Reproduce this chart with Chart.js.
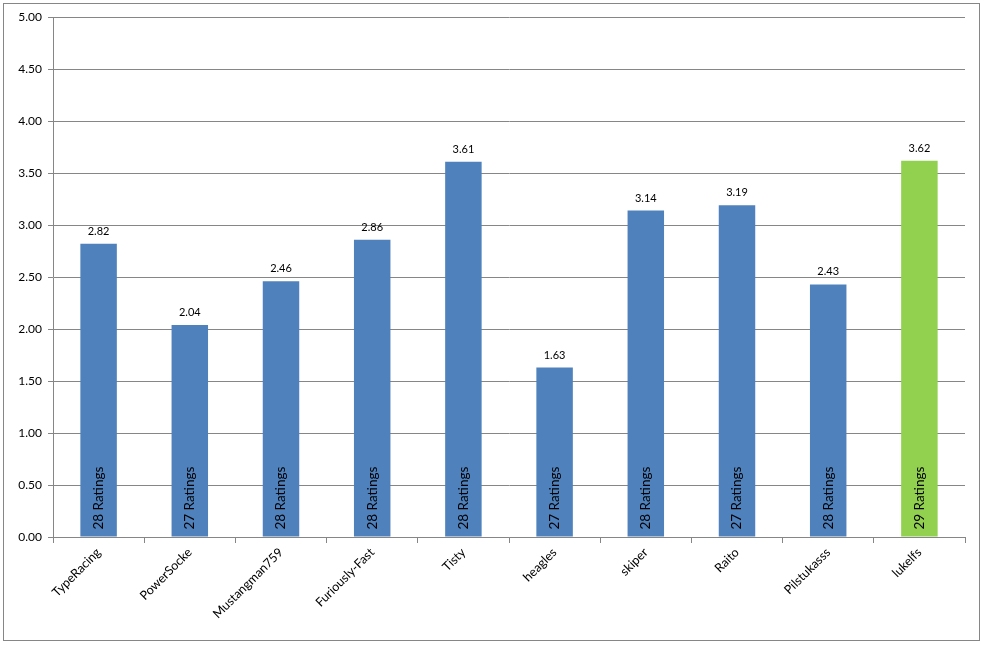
<!DOCTYPE html>
<html>
<head>
<meta charset="utf-8">
<script src="https://cdn.jsdelivr.net/npm/chart.js@4/dist/chart.umd.min.js"></script>
<style>
  body { margin: 0; background: #fff; }
  #wrap { position: absolute; left: 3px; top: 3px; width: 975px; height: 636px; border: 1px solid #868686; }
</style>
</head>
<body>
<div id="wrap"><canvas id="chart"></canvas></div>
<script>
const players = ["TypeRacing", "PowerSocke", "Mustangman759", "Furiously-Fast", "Tisty",
                 "heagles", "skiper", "Raito", "Pilstukasss", "lukelfs"];
const avgRating = [2.82, 2.04, 2.46, 2.86, 3.61, 1.63, 3.14, 3.19, 2.43, 3.62];
const ratingCounts = [28, 27, 28, 28, 28, 27, 28, 27, 28, 29];

const barColors = players.map((p, i) => i === players.length - 1 ? "#92D050" : "#4F81BD");
const gridGray = "#868686";
const font = "Lato, 'Open Sans', sans-serif";

// value on top, "NN Ratings" rotated inside
const barLabels = {
  id: "barLabels",
  afterDatasetsDraw(chart) {
    const ctx = chart.ctx;
    const meta = chart.getDatasetMeta(0);
    ctx.save();
    meta.data.forEach((bar, i) => {
      ctx.fillStyle = "#000";
      ctx.font = "11px " + font;
      ctx.textAlign = "center";
      ctx.textBaseline = "bottom";
      ctx.fillText(avgRating[i].toFixed(2), bar.x, bar.y - 7);

      ctx.save();
      ctx.translate(bar.x, bar.base - 7);
      ctx.rotate(-Math.PI / 2);
      ctx.font = "13.5px " + font;
      ctx.textAlign = "left";
      ctx.textBaseline = "middle";
      ctx.fillText(ratingCounts[i] + " Ratings", 0, 0);
      ctx.restore();
    });
    ctx.restore();
  }
};

new Chart(document.getElementById("chart"), {
  type: "bar",
  data: {
    labels: players,
    datasets: [{
      data: avgRating,
      backgroundColor: barColors,
      borderWidth: 0,
      barPercentage: 0.4,
      categoryPercentage: 1
    }]
  },
  options: {
    responsive: true,
    maintainAspectRatio: false,
    animation: false,
    layout: { padding: { left: 0, top: 13, right: 14, bottom: 0 } },
    plugins: { legend: { display: false }, tooltip: { enabled: false } },
    scales: {
      x: {
        grid: { display: true, drawOnChartArea: false, drawTicks: true, tickLength: 6, color: gridGray, offset: true },
        border: { color: gridGray },
        ticks: { minRotation: 45, maxRotation: 45, color: "#000", font: { family: font, size: 12.5 }, padding: 2 },
        afterFit(scale) { scale.height = 103; }
      },
      y: {
        min: 0,
        max: 5,
        ticks: { stepSize: 0.5, color: "#000", font: { family: font, size: 12 }, padding: 6,
                 callback: v => Number(v).toFixed(2) },
        grid: { color: gridGray, tickLength: 5 },
        border: { color: gridGray },
        afterFit(scale) { scale.width = 49; }
      }
    }
  },
  plugins: [barLabels]
});
</script>
</body>
</html>
